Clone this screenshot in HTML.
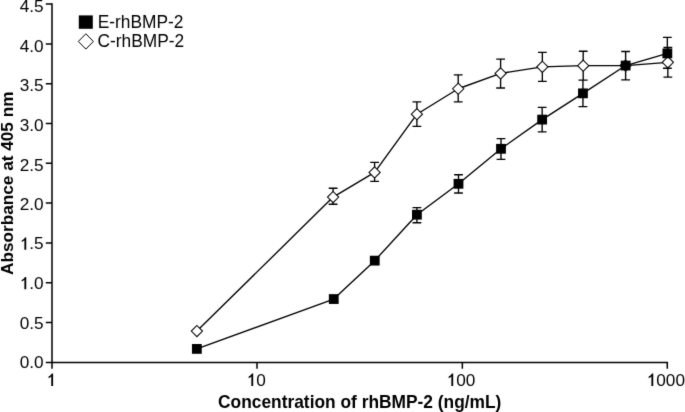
<!DOCTYPE html>
<html><head><meta charset="utf-8"><style>
html,body{margin:0;padding:0;background:#fff;}
body{width:685px;height:412px;overflow:hidden;font-family:"Liberation Sans", sans-serif;}
svg{display:block;will-change:transform;}
</style></head><body>
<svg width="685" height="412" viewBox="0 0 685 412">
<defs><path id="one" d="M780 0L560 0L560 1120Q495 1060 400 1005Q305 950 240 925L240 1105Q360 1160 460 1255Q570 1360 625 1466L780 1466Z"/></defs>
<defs><filter id="soft" x="0" y="0" width="685" height="412" filterUnits="userSpaceOnUse" color-interpolation-filters="sRGB"><feConvolveMatrix order="3" kernelMatrix="0.0100 0.0800 0.0100 0.0800 0.6400 0.0800 0.0100 0.0800 0.0100" edgeMode="duplicate"/></filter></defs>
<g filter="url(#soft)">
<rect width="685" height="412" fill="#fff"/>
<g stroke="#000" fill="none" stroke-width="1.5">
<path d="M52 3.35V362.45M45.8 362.45H668.05"/>
<path d="M45.8 322.5H52M45.8 282.7H52M45.8 242.9H52M45.8 203.1H52M45.8 163.3H52M45.8 123.5H52M45.8 83.7H52M45.8 43.9H52M45.8 4.1H52M52 362.45V368.7M257 362.45V368.7M462.35 362.45V368.7M667.3 362.45V368.7"/>
</g>
<g font-family="Liberation Sans, sans-serif" font-size="17.2" fill="#000">
<text x="19.69" y="11.82">4.5</text>
<text x="19.69" y="51.77">4.0</text>
<text x="19.69" y="90.97">3.5</text>
<text x="19.69" y="130.77">3.0</text>
<text x="19.69" y="170.52">2.5</text>
<text x="19.69" y="209.67">2.0</text>
<use href="#one" transform="translate(19.69 249.77) scale(0.008398 -0.008398)"/>
<text x="29.26" y="249.47">.5</text>
<use href="#one" transform="translate(19.69 289.22) scale(0.008398 -0.008398)"/>
<text x="29.26" y="288.92">.0</text>
<text x="19.69" y="328.52">0.5</text>
<text x="19.69" y="368.12">0.0</text>
<use href="#one" transform="translate(46.55 385.9) scale(0.008398 -0.008398)"/>
<use href="#one" transform="translate(246.65 385.9) scale(0.008398 -0.008398)"/>
<text x="256.22" y="385.6">0</text>
<use href="#one" transform="translate(446.65 385.9) scale(0.008398 -0.008398)"/>
<text x="456.22" y="385.6">00</text>
<use href="#one" transform="translate(646.7 385.9) scale(0.008398 -0.008398)"/>
<text x="656.27" y="385.6">000</text>
</g>
<text x="359.75" y="408.1" transform="matrix(1 0 0 1.03 0 -12.24)" font-family="Liberation Sans, sans-serif" font-weight="bold" font-size="17.35" text-anchor="middle">Concentration of rhBMP-2 (ng/mL)</text>
<text transform="translate(13.3 183.25) rotate(-90)" x="0" y="0" font-family="Liberation Sans, sans-serif" font-weight="bold" font-size="17.2" text-anchor="middle">Absorbance at 405 nm</text>
<path d="M196.9 331.1 L333.1 197.1 L374.6 172.4 L416.9 114.2 L458.2 88.75 L500.6 73.45 L542.35 66.85 L583.2 65.65 L625.6 65.6 L667.85 62.3" stroke="#000" stroke-width="1.35" fill="none" stroke-linejoin="round"/>
<path d="M196.85 348.9 L333.75 299.05 L374.75 260.65 L416.9 214.7 L458.5 183.8 L501 148.8 L542.15 119.6 L582.95 93.35 L625.65 65.55 L667.35 53.4" stroke="#000" stroke-width="1.35" fill="none" stroke-linejoin="round"/>
<path d="M333.1 188.2V204.2M328.7 188.2H337.5M328.7 204.2H337.5M374.6 162.3V181.3M370.2 162.3H379M370.2 181.3H379M416.9 101.8V126.3M412.5 101.8H421.3M412.5 126.3H421.3M458.2 74.9V101.8M453.8 74.9H462.6M453.8 101.8H462.6M500.6 59.1V88M496.2 59.1H505M496.2 88H505M542.35 52.3V81.4M537.95 52.3H546.75M537.95 81.4H546.75M583.2 51.2V80.05M578.8 51.2H587.6M578.8 80.05H587.6M625.6 51.5V79.8M621.2 51.5H630M621.2 79.8H630M667.85 47.5V77.1M663.45 47.5H672.25M663.45 77.1H672.25M416.9 207.6V222.7M412.5 207.6H421.3M412.5 222.7H421.3M458.5 174.7V193M454.1 174.7H462.9M454.1 193H462.9M501 138.6V159.3M496.6 138.6H505.4M496.6 159.3H505.4M542.15 107.3V131.9M537.75 107.3H546.55M537.75 131.9H546.55M582.95 80.05V106.6M578.55 80.05H587.35M578.55 106.6H587.35M625.65 51.5V79.8M621.25 51.5H630.05M621.25 79.8H630.05M667.35 37.3V68.2M662.95 37.3H671.75M662.95 68.2H671.75" stroke="#000" stroke-width="1.35" fill="none"/>
<path d="M196.9 325.5L202.5 331.1L196.9 336.7L191.3 331.1Z" fill="#fff" stroke="#000" stroke-width="1.05"/>
<path d="M333.1 191.5L338.7 197.1L333.1 202.7L327.5 197.1Z" fill="#fff" stroke="#000" stroke-width="1.05"/>
<path d="M374.6 166.8L380.2 172.4L374.6 178L369 172.4Z" fill="#fff" stroke="#000" stroke-width="1.05"/>
<path d="M416.9 108.6L422.5 114.2L416.9 119.8L411.3 114.2Z" fill="#fff" stroke="#000" stroke-width="1.05"/>
<path d="M458.2 83.15L463.8 88.75L458.2 94.35L452.6 88.75Z" fill="#fff" stroke="#000" stroke-width="1.05"/>
<path d="M500.6 67.85L506.2 73.45L500.6 79.05L495 73.45Z" fill="#fff" stroke="#000" stroke-width="1.05"/>
<path d="M542.35 61.25L547.95 66.85L542.35 72.45L536.75 66.85Z" fill="#fff" stroke="#000" stroke-width="1.05"/>
<path d="M583.2 60.05L588.8 65.65L583.2 71.25L577.6 65.65Z" fill="#fff" stroke="#000" stroke-width="1.05"/>
<path d="M625.6 60L631.2 65.6L625.6 71.2L620 65.6Z" fill="#fff" stroke="#000" stroke-width="1.05"/>
<path d="M667.85 56.7L673.45 62.3L667.85 67.9L662.25 62.3Z" fill="#fff" stroke="#000" stroke-width="1.05"/>
<rect x="191.95" y="344" width="9.8" height="9.8" fill="#000"/>
<rect x="328.85" y="294.15" width="9.8" height="9.8" fill="#000"/>
<rect x="369.85" y="255.75" width="9.8" height="9.8" fill="#000"/>
<rect x="412" y="209.8" width="9.8" height="9.8" fill="#000"/>
<rect x="453.6" y="178.9" width="9.8" height="9.8" fill="#000"/>
<rect x="496.1" y="143.9" width="9.8" height="9.8" fill="#000"/>
<rect x="537.25" y="114.7" width="9.8" height="9.8" fill="#000"/>
<rect x="578.05" y="88.45" width="9.8" height="9.8" fill="#000"/>
<rect x="620.75" y="60.65" width="9.8" height="9.8" fill="#000"/>
<rect x="662.45" y="48.5" width="9.8" height="9.8" fill="#000"/>
<rect x="78.8" y="15.4" width="14" height="13.4" fill="#000"/>
<path d="M85.85 33.8L93.4 41.45L85.85 49.1L78.3 41.45Z" fill="#fff" stroke="#000" stroke-width="1.0"/>
<g font-family="Liberation Sans, sans-serif" font-size="17.35" fill="#000">
<text x="97.7" y="27.6" transform="matrix(1 0 0 1.05 0 -1.38)">E-rhBMP-2</text>
<text x="97.5" y="46.6" transform="matrix(1 0 0 1.05 0 -2.33)">C-rhBMP-2</text>
</g>
</g>
</svg>
</body></html>
